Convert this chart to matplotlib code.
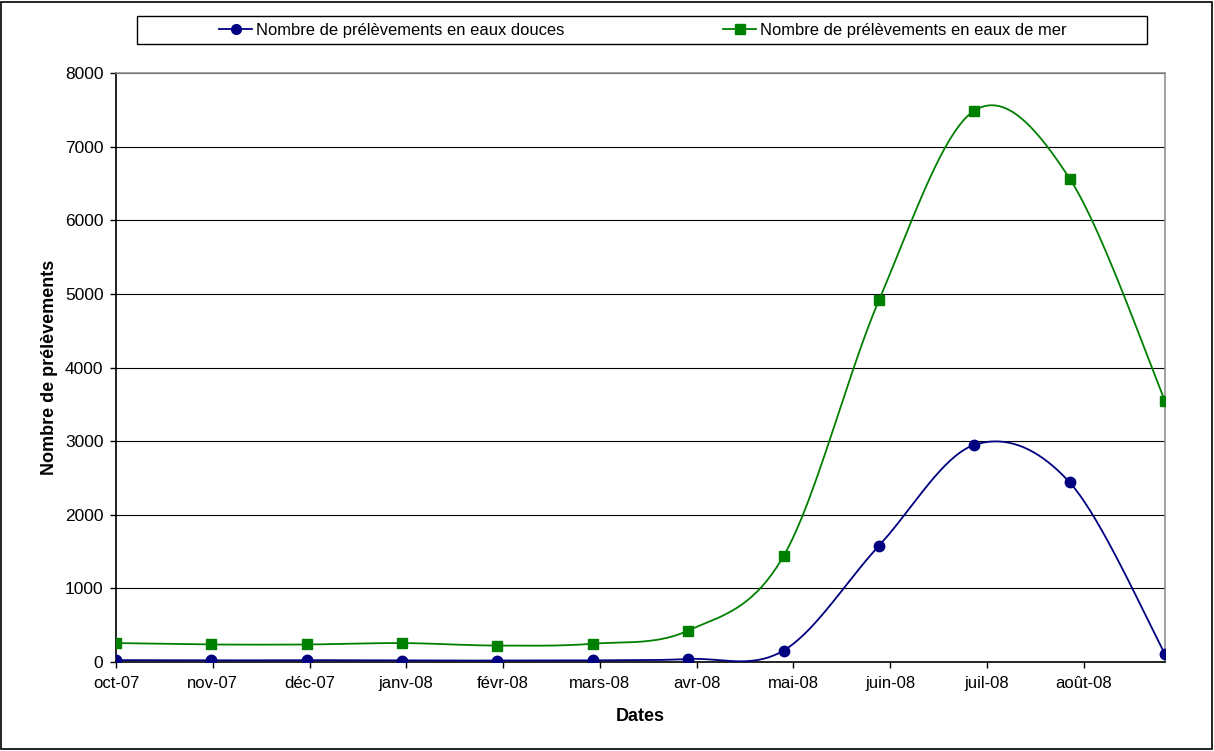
import numpy as np
import pandas as pd
import matplotlib
matplotlib.use("Agg")
import matplotlib.pyplot as plt
from matplotlib.patches import Rectangle

plt.rcParams['font.family'] = ['Liberation Sans', 'DejaVu Sans']

# sampling dates (one point every ~30 days)
dates = ['2007-10-01', '2007-10-31', '2007-11-30', '2007-12-30', '2008-01-29', '2008-02-28',
         '2008-03-29', '2008-04-28', '2008-05-28', '2008-06-27', '2008-07-27', '2008-08-26']
eaux_douces = [25, 22, 25, 20, 20, 22, 41, 155, 1578, 2948, 2440, 109]
eaux_mer = [257, 238, 238, 257, 223, 248, 427, 1438, 4912, 7488, 6567, 3547]
mois = ['oct-07', 'nov-07', 'déc-07', 'janv-08', 'févr-08', 'mars-08',
        'avr-08', 'mai-08', 'juin-08', 'juil-08', 'août-08']

lbl_douces = 'Nombre de prélèvements en eaux douces'
lbl_mer = 'Nombre de prélèvements en eaux de mer'

d = pd.to_datetime(dates)
x = np.array((d - d[0]).days, dtype=float)


def smooth(xs, ys, n=40):
    # Excel-like smoothed line (Catmull-Rom bezier)
    xs = np.asarray(xs, float)
    ys = np.asarray(ys, float)
    px = np.concatenate([[xs[0]], xs, [xs[-1]]])
    py = np.concatenate([[ys[0]], ys, [ys[-1]]])
    outx, outy = [], []
    t = np.linspace(0, 1, n)
    for i in range(1, len(px) - 2):
        p0 = np.array([px[i], py[i]])
        p3 = np.array([px[i + 1], py[i + 1]])
        p1 = p0 + (np.array([px[i + 1], py[i + 1]]) - np.array([px[i - 1], py[i - 1]])) / 6
        p2 = p3 - (np.array([px[i + 2], py[i + 2]]) - np.array([px[i], py[i]])) / 6
        b = ((1 - t) ** 3)[:, None] * p0 + (3 * (1 - t) ** 2 * t)[:, None] * p1 \
            + (3 * (1 - t) * t ** 2)[:, None] * p2 + (t ** 3)[:, None] * p3
        outx.extend(b[:, 0])
        outy.extend(b[:, 1])
    return np.array(outx), np.array(outy)


fig = plt.figure(figsize=(12.14, 7.51), dpi=100)
W, H = 1214, 751
ax = fig.add_axes([116 / W, 1 - 662 / H, (1165 - 116) / W, (662 - 73) / H])

blue = '#000080'
green = '#008000'

sx, sy = smooth(x, eaux_douces)
ax.plot(sx, sy, color=blue, lw=1.3, zorder=3)
ax.plot(x, eaux_douces, 'o', color=blue, ms=7.5, zorder=4)
sx, sy = smooth(x, eaux_mer)
ax.plot(sx, sy, color=green, lw=1.3, zorder=3)
ax.plot(x, eaux_mer, 's', color=green, ms=7, zorder=4)

month = 365.25 / 12
ax.set_xlim(0, x[-1])
ax.set_ylim(0, 8000)
ax.set_xticks([i * month for i in range(len(mois))])
ax.set_xticklabels(mois, fontsize=12)
ax.set_yticks(range(0, 8001, 1000))
ax.tick_params(axis='y', labelsize=12.5, length=4, pad=5, width=1)
ax.tick_params(axis='x', length=4, pad=6, width=1)
ax.grid(axis='y', color='black', lw=0.8)
ax.set_axisbelow(True)

for s in ['left', 'bottom']:
    ax.spines[s].set_color('black')
    ax.spines[s].set_linewidth(1.2)
for s in ['top', 'right']:
    ax.spines[s].set_color('#909090')
    ax.spines[s].set_linewidth(1.2)

ax.set_ylabel('Nombre de prélèvements', fontsize=13, fontweight='bold')
ax.set_xlabel('Dates', fontsize=13, fontweight='bold')
ax.yaxis.set_label_coords(-0.055, 0.5)
ax.xaxis.set_label_coords(0.5, -0.078)

# legend
h1, = ax.plot([], [], color=blue, marker='o', ms=7, lw=1.3)
h2, = ax.plot([], [], color=green, marker='s', ms=7, lw=1.3)
fig.legend([h1, h2], [lbl_douces, lbl_mer], loc='center', bbox_to_anchor=(643 / W, 1 - 30 / H),
           ncol=2, frameon=False, fontsize=11.9, handlelength=2.0, handletextpad=0.25,
           columnspacing=9.6)
fig.patches.append(Rectangle((137 / W, 1 - 44 / H), (1147 - 137) / W, 28 / H,
                             transform=fig.transFigure, fill=False, ec='black', lw=1))
fig.patches.append(Rectangle((1 / W, 2 / H), (W - 3) / W, (H - 4) / H,
                             transform=fig.transFigure, fill=False, ec='black', lw=1.2))

fig.savefig('out.png', dpi=100)
